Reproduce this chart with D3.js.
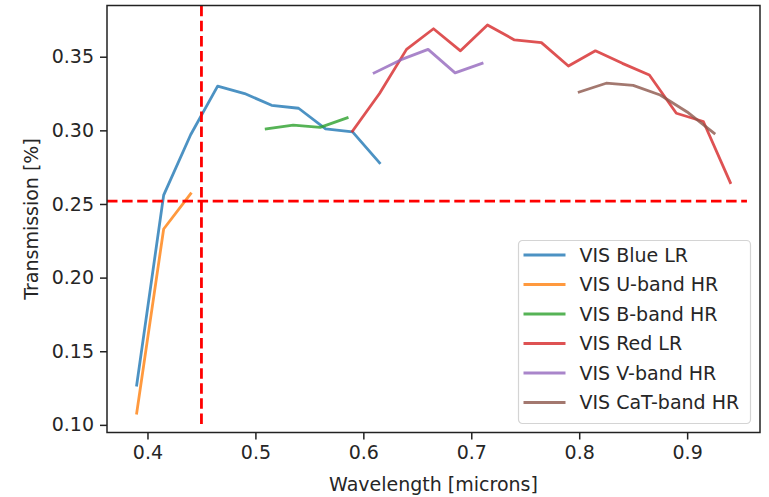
<!DOCTYPE html>
<html>
<head>
<meta charset="utf-8">
<script src="https://cdn.jsdelivr.net/npm/d3@7"></script>
<style>
  body { margin: 0; background: #fff; }
  text { font-family: "DejaVu Sans", sans-serif; }
</style>
</head>
<body>
<svg id="chart" width="769" height="497"></svg>
<script>
// series data
var blueLRX = [0.39, 0.415, 0.44, 0.465, 0.49, 0.515, 0.54, 0.565, 0.59, 0.615];
var blueLRY = [0.127, 0.256, 0.297, 0.330, 0.325, 0.317, 0.315, 0.301, 0.299, 0.278];
var uBandX = [0.39, 0.415, 0.44];
var uBandY = [0.108, 0.233, 0.257];
var bBandX = [0.51, 0.535, 0.56, 0.585];
var bBandY = [0.301, 0.3035, 0.302, 0.3085];
var redLRX = [0.59, 0.615, 0.64, 0.665, 0.69, 0.715, 0.74, 0.765, 0.79, 0.815, 0.84, 0.865, 0.89, 0.915, 0.94];
var redLRY = [0.2995, 0.325, 0.355, 0.369, 0.354, 0.3716, 0.3614, 0.3596, 0.3437, 0.354, 0.3455, 0.3376, 0.3116, 0.306, 0.2645];
var vBandX = [0.61, 0.635, 0.66, 0.685, 0.71];
var vBandY = [0.339, 0.348, 0.355, 0.339, 0.3455];
var catBandX = [0.80, 0.825, 0.85, 0.875, 0.90, 0.925];
var catBandY = [0.326, 0.332, 0.3305, 0.324, 0.3125, 0.298];

var seriesNames = ["VIS Blue LR", "VIS U-band HR", "VIS B-band HR", "VIS Red LR", "VIS V-band HR", "VIS CaT-band HR"];
var seriesColors = ["#1f77b4", "#ff7f0e", "#2ca02c", "#d62728", "#9467bd", "#8c564b"];

var xTicks = [0.4, 0.5, 0.6, 0.7, 0.8, 0.9];
var yTicks = [0.10, 0.15, 0.20, 0.25, 0.30, 0.35];

var limitWavelength = 0.45;
var limitTransmission = 0.252;

var plotLeft = 107, plotRight = 760, plotTop = 5.5, plotBottom = 432.5;
var fontSize = 19;

var series = [
	[blueLRX, blueLRY], [uBandX, uBandY], [bBandX, bBandY],
	[redLRX, redLRY], [vBandX, vBandY], [catBandX, catBandY]
].map(function (s, i) {
	return {
		name: seriesNames[i],
		color: seriesColors[i],
		points: s[0].map(function (x, j) { return { x: x, y: s[1][j] }; })
	};
});

// autoscale like matplotlib: 5% margin
function padded(vals) {
	var e = d3.extent(vals);
	var m = (e[1] - e[0]) * 0.05;
	return [e[0] - m, e[1] + m];
}
var allX = [].concat(blueLRX, uBandX, bBandX, redLRX, vBandX, catBandX);
var allY = [].concat(blueLRY, uBandY, bBandY, redLRY, vBandY, catBandY);

var x = d3.scaleLinear().domain(padded(allX)).range([plotLeft, plotRight]);
var y = d3.scaleLinear().domain(padded(allY)).range([plotBottom, plotTop]);

var svg = d3.select("#chart");

var line = d3.line()
	.x(function (d) { return x(d.x); })
	.y(function (d) { return y(d.y); });

var plot = svg.append("g");
plot.selectAll("path.series")
	.data(series)
	.enter()
	.append("path")
	.attr("class", "series")
	.attr("fill", "none")
	.attr("stroke", function (d) { return d.color; })
	.attr("stroke-opacity", 0.8)
	.attr("stroke-width", 2.8)
	.attr("stroke-linejoin", "round")
	.attr("stroke-linecap", "square")
	.attr("d", function (d) { return line(d.points); });

// dashed limit lines (axvline ymin=0.02, axhline xmax=0.98)
var yFrac = d3.scaleLinear().domain([0, 1]).range([plotBottom, plotTop]);
var xFrac = d3.scaleLinear().domain([0, 1]).range([plotLeft, plotRight]);
plot.append("line")
	.attr("x1", x(limitWavelength)).attr("x2", x(limitWavelength))
	.attr("y1", yFrac(0.02)).attr("y2", yFrac(1))
	.attr("stroke", "red").attr("stroke-width", 2.8)
	.attr("stroke-dasharray", "10.5,4.6");
plot.append("line")
	.attr("x1", xFrac(0)).attr("x2", xFrac(0.98))
	.attr("y1", y(limitTransmission)).attr("y2", y(limitTransmission))
	.attr("stroke", "red").attr("stroke-width", 2.8)
	.attr("stroke-dasharray", "10.5,4.6");

// axes
var xAxis = d3.axisBottom(x).tickValues(xTicks).tickFormat(d3.format(".1f"))
	.tickSize(7).tickSizeOuter(0).tickPadding(6);
var yAxis = d3.axisLeft(y).tickValues(yTicks).tickFormat(d3.format(".2f"))
	.tickSize(7).tickSizeOuter(0).tickPadding(6);

var gx = svg.append("g").attr("transform", "translate(0," + plotBottom + ")").call(xAxis);
var gy = svg.append("g").attr("transform", "translate(" + plotLeft + ",0)").call(yAxis);
[gx, gy].forEach(function (g) {
	g.select(".domain").remove();
	g.selectAll("line").attr("stroke", "#222").attr("stroke-width", 1.5);
	g.selectAll("text").attr("fill", "#262626").style("font-size", fontSize + "px");
});

// frame
svg.append("rect")
	.attr("x", plotLeft).attr("y", plotTop)
	.attr("width", plotRight - plotLeft).attr("height", plotBottom - plotTop)
	.attr("fill", "none").attr("stroke", "#222").attr("stroke-width", 1.5);

svg.append("text")
	.attr("x", (plotLeft + plotRight) / 2).attr("y", 491)
	.attr("text-anchor", "middle")
	.attr("fill", "#262626")
	.style("font-size", fontSize + "px")
	.text("Wavelength [microns]");

svg.append("text")
	.attr("transform", "translate(38," + ((plotTop + plotBottom) / 2) + ") rotate(-90)")
	.attr("text-anchor", "middle")
	.attr("fill", "#262626")
	.style("font-size", fontSize + "px")
	.text("Transmission [%]");

// legend
var legend = svg.append("g").attr("transform", "translate(518.5,240.5)");
legend.append("rect")
	.attr("width", 232).attr("height", 183).attr("rx", 4)
	.attr("fill", "white").attr("fill-opacity", 0.8)
	.attr("stroke", "#d4d4d4").attr("stroke-width", 1.2);

var rows = legend.selectAll("g.item")
	.data(series)
	.enter()
	.append("g")
	.attr("class", "item")
	.attr("transform", function (d, i) { return "translate(0," + (14.5 + i * 29.5) + ")"; });
rows.append("line")
	.attr("x1", 5).attr("x2", 47)
	.attr("stroke", function (d) { return d.color; })
	.attr("stroke-opacity", 0.8)
	.attr("stroke-width", 2.8);
rows.append("text")
	.attr("x", 61).attr("dy", "0.35em")
	.attr("fill", "#262626")
	.style("font-size", fontSize + "px")
	.text(function (d) { return d.name; });
</script>
</body>
</html>
